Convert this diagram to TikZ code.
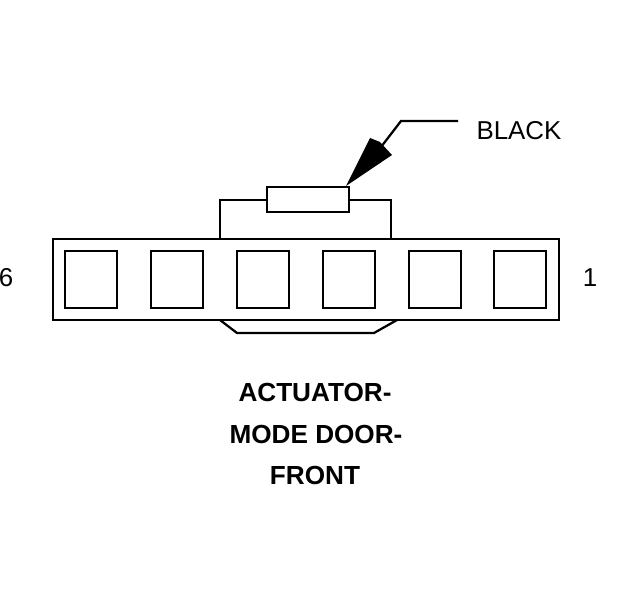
\documentclass[tikz,border=0pt]{standalone}
\usepackage{fontspec}
\setmainfont{Liberation Sans}
\tikzset{
    outline/.style={line width=1.6pt, line join=miter},
    pinbox/.style={line width=2pt},
    plainlabel/.style={font=\fontsize{18.4}{20}\selectfont},
    titlelabel/.style={font=\fontsize{18.6}{20}\selectfont\bfseries},
}
\begin{document}
\begin{tikzpicture}
            \useasboundingbox (0,0) rectangle (15.6,15);

            % Connector body
            \draw[outline] (1.325,7) rectangle (13.975,9.025);

            % Pin cavities
            \foreach \x in {1.625,3.775,5.925,8.075,10.225,12.35}
                \draw[pinbox] (\x,7.3) rectangle (\x+1.3,8.725);

            % Top latch
            \draw[outline] (5.5,9.025) -- (5.5,10) -- (6.675,10);
            \draw[outline] (8.725,10) -- (9.775,10) -- (9.775,9.025);
            \draw[outline] (6.675,9.7) rectangle (8.725,10.325);

            % Bottom key
            \draw[outline] (5.5,7) -- (5.925,6.675) -- (9.35,6.675) -- (9.925,7);

            % Labels
            \node[plainlabel] (black) at (12.975,11.725) {BLACK};
            \node[plainlabel] (pinsix) at (.15,8.05) {6};
            \node[plainlabel] (pinone) at (14.75,8.05) {1};
            \node[titlelabel] (actuator) at (7.875,5.2) {ACTUATOR-};
            \node[titlelabel] (mode) at (7.9,4.15) {MODE DOOR-};
            \node[titlelabel] (front) at (7.875,3.125) {FRONT};

            % Leader
            \coordinate (leaderend) at (11.45,11.975);
            \coordinate (leaderbend) at (10.025,11.975);
            \coordinate (headbase) at (9.525,11.325);
            \draw[outline] (leaderend) -- (leaderbend) -- (headbase);
            \fill (8.65,10.35) -- (9.25,11.55) -- (9.5,11.45) -- (9.8,11.125) -- cycle;
        \end{tikzpicture}
\end{document}
